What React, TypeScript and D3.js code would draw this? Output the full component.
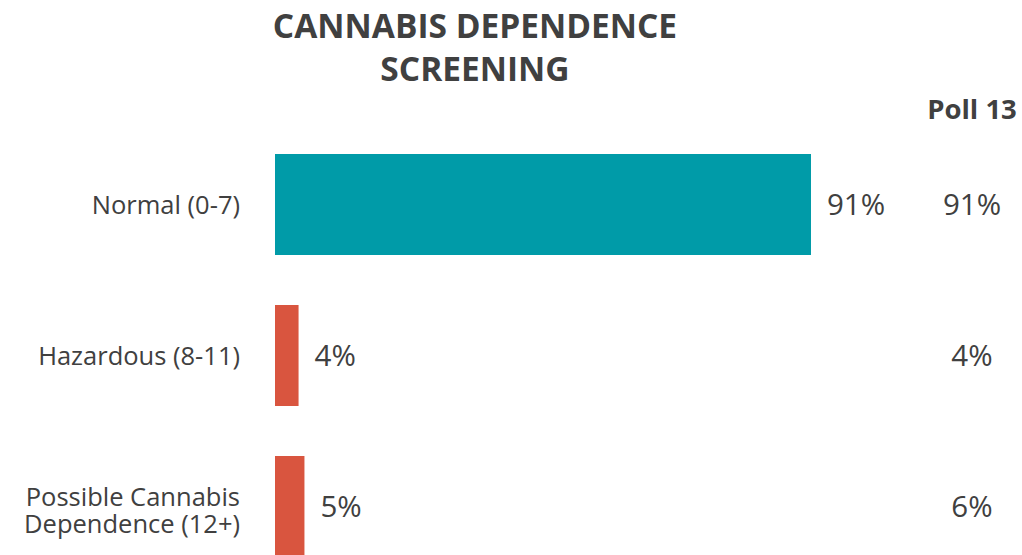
import React from "react";
import * as d3 from "d3";

const categories = ["Normal (0-7)", "Hazardous (8-11)", "Possible Cannabis|Dependence (12+)"];
const values = [91, 4, 5];
const pollValues = [91, 4, 6];
const colors = ["#009ba8", "#d9553f", "#d9553f"];
const titleLines = ["CANNABIS DEPENDENCE", "SCREENING"];
const pollTitle = "Poll 13";

const W = 1022;
const H = 555;
const FONT = "'Open Sans', sans-serif";
const TEXT = "#404040";

export default function App() {
  const x = d3.scaleLinear().domain([0, 100]).range([275, 275 + 589]);
  const bh = 101;
  return (
    <svg width={W} height={H} style={{ position: "absolute", left: 0, top: 0, background: "#fff" }} fontFamily={FONT}>
      <text x={475} y={38} textAnchor="middle" fontSize={33.5} fontWeight={700} fill={TEXT}>
        {titleLines.map((t, i) => (
          <tspan key={t} x={475} dy={i === 0 ? 0 : 43}>{t}</tspan>
        ))}
      </text>
      <text x={972} y={119} textAnchor="middle" fontSize={27.5} fontWeight={700} fill={TEXT}>{pollTitle}</text>
      {categories.map((c, i) => {
        const y0 = 154 + i * 151;
        const cy = y0 + bh / 2;
        const lines = c.split("|");
        const multi = lines.length > 1;
        return (
          <g key={c}>
            <rect x={x(0)} y={y0} width={x(values[i]) - x(0)} height={bh} fill={colors[i]} />
            <text x={240} y={multi ? cy - 1 : cy + 9.5} textAnchor="end" fontSize={25.5} fill={TEXT}>
              {lines.map((l, j) => (
                <tspan key={l} x={240} dy={j === 0 ? 0 : 27}>{l}</tspan>
              ))}
            </text>
            <text x={x(values[i]) + 16} y={cy + 10} fontSize={29.5} fill={TEXT}>{values[i]}%</text>
            <text x={972} y={cy + 10} textAnchor="middle" fontSize={29.5} fill={TEXT}>{pollValues[i]}%</text>
          </g>
        );
      })}
    </svg>
  );
}
